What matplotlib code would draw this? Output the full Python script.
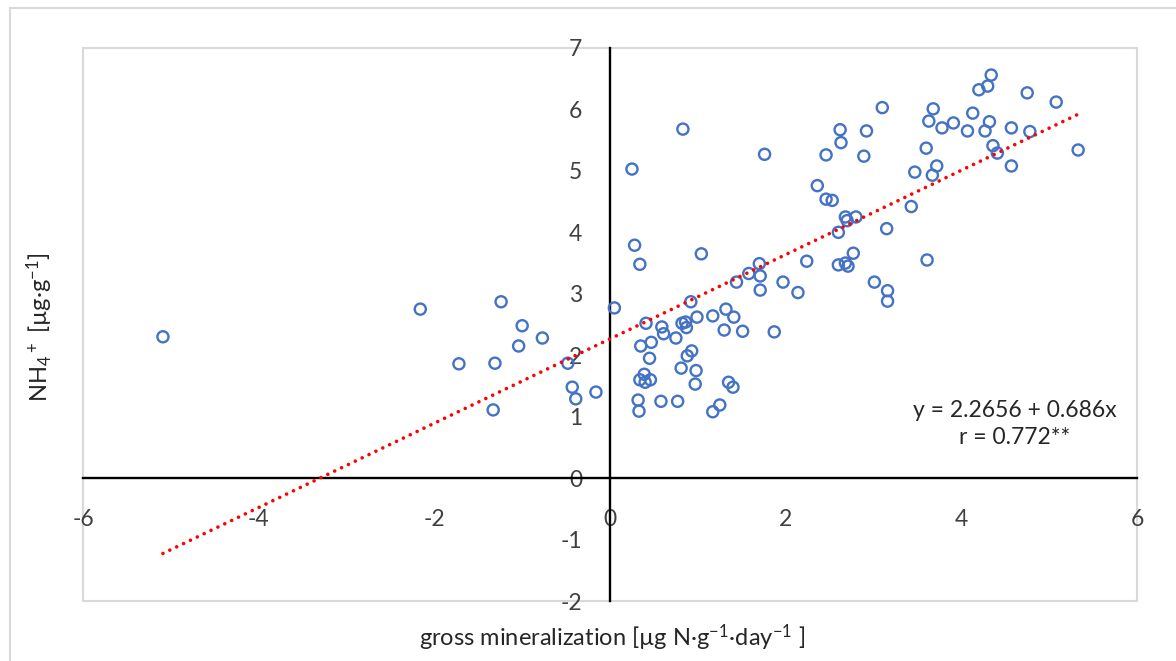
import matplotlib.pyplot as plt
from matplotlib.lines import Line2D
import numpy as np

plt.rcParams['font.family'] = ['Lato', 'DejaVu Sans']
plt.rcParams['mathtext.default'] = 'regular'
plt.rcParams['axes.unicode_minus'] = False

# Messpunkte
gross_min = [-5.09, -2.16, -1.24, -1.00, -0.77, -1.04, -1.72, -1.31, -0.48, -0.43,
             -0.39, -0.16, -1.33,
             0.05, 0.25, 0.83, 0.28, 0.34, 1.04,
             0.41, 0.59, 0.61, 0.75, 0.82, 0.86, 0.87, 0.99, 0.92,
             1.17, 1.32, 1.41, 1.30, 1.51, 1.87,
             0.35, 0.47, 0.45, 0.93, 0.88, 0.81, 0.98, 0.97,
             0.39, 0.34, 0.40, 0.46, 0.32, 0.33, 0.58, 0.77,
             1.35, 1.40, 1.25, 1.17,
             1.44, 1.58, 1.70, 1.71, 1.71, 1.97, 2.14, 2.24,
             1.76, 2.36, 2.46, 2.53, 2.68, 2.70, 2.80, 2.60, 2.77, 2.60,
             2.68, 2.71, 3.01, 3.16, 3.16, 3.15, 3.61, 3.43,
             2.46, 2.89, 3.10, 2.62, 2.92, 2.63,
             3.47, 3.67, 3.72, 3.60, 3.63, 3.68, 3.78, 3.91,
             4.34, 4.30, 4.20, 4.75, 5.08, 4.13, 4.07, 4.27, 4.32, 4.57,
             4.78, 4.36, 4.41, 4.57, 5.33]
nh4 = [2.30, 2.75, 2.87, 2.48, 2.28, 2.15, 1.86, 1.87, 1.87, 1.48,
       1.29, 1.40, 1.11,
       2.77, 5.03, 5.68, 3.79, 3.48, 3.65,
       2.52, 2.46, 2.35, 2.28, 2.52, 2.54, 2.45, 2.62, 2.87,
       2.64, 2.75, 2.62, 2.41, 2.39, 2.38,
       2.15, 2.21, 1.95, 2.07, 1.99, 1.79, 1.75, 1.53,
       1.69, 1.60, 1.56, 1.60, 1.27, 1.09, 1.25, 1.25,
       1.56, 1.48, 1.19, 1.08,
       3.19, 3.33, 3.49, 3.29, 3.06, 3.19, 3.02, 3.53,
       5.27, 4.76, 4.54, 4.52, 4.25, 4.19, 4.25, 4.00, 3.66, 3.47,
       3.50, 3.45, 3.19, 3.05, 2.88, 4.06, 3.55, 4.42,
       5.26, 5.24, 6.03, 5.67, 5.65, 5.46,
       4.98, 4.93, 5.08, 5.37, 5.81, 6.01, 5.70, 5.78,
       6.56, 6.38, 6.32, 6.27, 6.12, 5.94, 5.65, 5.65, 5.80, 5.70,
       5.64, 5.41, 5.29, 5.08, 5.34]

# Regressionsgerade
intercept = 2.2656
slope = 0.686

x_ticks = [-6, -4, -2, 0, 2, 4, 6]
y_ticks = [-2, -1, 0, 1, 2, 3, 4, 5, 6, 7]

fig = plt.figure(figsize=(11.76, 6.61), dpi=100)
ax = fig.add_axes([83 / 1176, 1 - 601 / 661, 1054 / 1176, 553 / 661])

ax.scatter(gross_min, nh4, s=64, facecolors='none', edgecolors='#4472C4',
           linewidths=1.7, zorder=3)

x_fit = np.array([min(gross_min), max(gross_min)])
ax.plot(x_fit, intercept + slope * x_fit, color='red', lw=2.6,
        linestyle=(0, (0.01, 2.1)), dash_capstyle='round', zorder=4)

ax.set_xlim(-6, 6)
ax.set_ylim(-2, 7)
ax.set_xticks(x_ticks)
ax.set_yticks(y_ticks)

# Achsen durch den Nullpunkt
for side in ['left', 'bottom']:
    ax.spines[side].set_position('zero')
    ax.spines[side].set_color('black')
    ax.spines[side].set_linewidth(1.7)
    ax.spines[side].set_zorder(2)
ax.tick_params(length=0, labelsize=16.5, colors='#404040')
ax.tick_params(axis='x', pad=22)
ax.tick_params(axis='y', pad=20)

# grauer Rahmen der Zeichenfläche
ax.add_patch(plt.Rectangle((0, 0), 1, 1, transform=ax.transAxes, fill=False,
                           edgecolor='#d9d9d9', lw=1.5, clip_on=False, zorder=1))
for side in ['top', 'right']:
    ax.spines[side].set_visible(False)

ax.text(4.61, 0.88, 'y = 2.2656 + 0.686x\nr = 0.772**', ha='center', va='center',
        fontsize=16.5, color='#262626', linespacing=1.35)

fig.text(612 / 1176, 1 - 638 / 661, r'gross mineralization [µg N·g$^{-1}$·day$^{-1}$ ]',
         ha='center', va='center', fontsize=17, color='#262626')
fig.text(40 / 1176, 1 - 327 / 661, r'NH$_4$$^+$ [µg·g$^{-1}$]', rotation=90,
         ha='center', va='center', fontsize=17, color='#262626')

# äußerer Rahmen (nur oben und links sichtbar)
fig.add_artist(Line2D([10 / 1176, 10 / 1176], [0, 1 - 8 / 661], color='#d9d9d9', lw=1.5))
fig.add_artist(Line2D([10 / 1176, 1], [1 - 8 / 661, 1 - 8 / 661], color='#d9d9d9', lw=1.5))

fig.savefig('out.png', dpi=100)
